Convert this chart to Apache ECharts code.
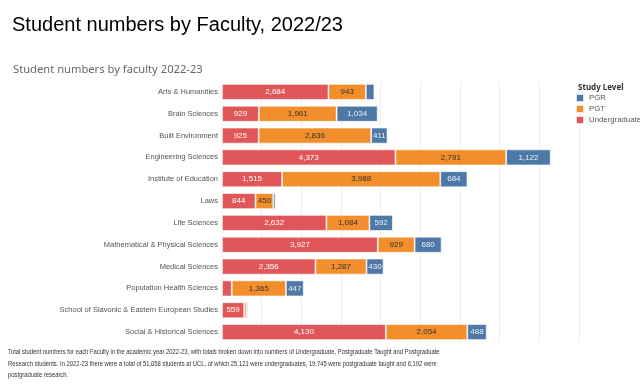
<!DOCTYPE html>
<html>
<head>
<meta charset="utf-8">
<script src="https://cdn.jsdelivr.net/npm/echarts@6/dist/echarts.min.js"></script>
<style>
html,body{margin:0;padding:0;background:#fff;}
#c{width:640px;height:390px;}
</style>
</head>
<body>
<div id="c"></div>
<script>
const categories = [
  'Arts & Humanities', 'Brain Sciences', 'Built Environment', 'Engineering Sciences',
  'Institute of Education', 'Laws', 'Life Sciences', 'Mathematical & Physical Sciences',
  'Medical Sciences', 'Population Health Sciences',
  'School of Slavonic & Eastern European Studies', 'Social & Historical Sciences'
];
const undergraduate = [2684, 929, 925, 4373, 1515, 844, 2632, 3927, 2356, 247, 559, 4130];
const pgt = [943, 1961, 2836, 2791, 3988, 450, 1084, 929, 1287, 1365, 57, 2054];
const pgr = [215, 1034, 411, 1122, 684, 55, 592, 680, 430, 447, 34, 488];

const footer = [
  'Total student numbers for each Faculty in the academic year 2022-23, with totals broken down into numbers of Undergraduate, Postgraduate Taught and Postgraduate',
  'Research students. In 2022-23 there were a total of 51,058 students at UCL, of which 25,121 were undergraduates, 19,745 were postgraduate taught and 6,192 were',
  'postgraduate research.'
];

const chart = echarts.init(document.getElementById('c'), null, {renderer: 'canvas'});
const fmt = p => p.value >= 300 ? p.value.toLocaleString('en-US') : '';
const ff = 'Liberation Sans, Arial, sans-serif';

function mk(name, data, color, textColor) {
  return {
    name, type: 'bar', stack: 'total', data, barWidth: 16,
    itemStyle: {color, borderColor: 'rgba(255,255,255,0.8)', borderWidth: 0.8},
    label: {show: true, position: 'inside', color: textColor, formatter: fmt, fontSize: 8, fontFamily: ff},
    emphasis: {disabled: true}, animation: false
  };
}

chart.setOption({
  animation: false,
  title: [
    {text: 'Student numbers by Faculty, 2022/23', left: 7, top: 10,
     textStyle: {fontSize: 20, fontWeight: 'normal', color: '#000', fontFamily: ff}},
    {text: 'Student numbers by faculty 2022-23', left: 8, top: 59,
     textStyle: {fontSize: 11.2, fontWeight: 'normal', color: '#666', fontFamily: 'Noto Sans, sans-serif'}},
    {text: 'Study Level', left: 573, top: 79,
     textStyle: {fontSize: 8, fontWeight: 'bold', color: '#333', fontFamily: 'Noto Sans, sans-serif'}}
  ],
  legend: {
    data: ['PGR', 'PGT', 'Undergraduate'],
    orient: 'vertical', left: 575, top: 93, padding: 0, itemWidth: 8, itemHeight: 8, itemGap: 1,
    icon: 'rect', selectedMode: false,
    textStyle: {fontSize: 7.8, color: '#555', fontFamily: ff}
  },
  grid: {left: 222, top: 81, height: 262, width: 357},
  xAxis: {
    type: 'value', min: 0, max: 9000, interval: 1000,
    axisLabel: {show: false}, axisLine: {show: false}, axisTick: {show: false},
    splitLine: {show: true, lineStyle: {color: '#f0f0f0', width: 1}}
  },
  yAxis: {
    type: 'category', data: categories, inverse: true,
    axisLine: {show: false}, axisTick: {show: false},
    axisLabel: {color: '#555', margin: 4, fontSize: 7.5, fontFamily: ff}
  },
  series: [
    mk('Undergraduate', undergraduate, '#E15759', '#fff'),
    mk('PGT', pgt, '#F28E2B', '#333'),
    mk('PGR', pgr, '#4E79A7', '#e8eef6')
  ],
  graphic: footer.map((t, i) => ({
    type: 'text', x: 8, y: 348 + i * 11.5, scaleX: 0.78,
    style: {text: t, fontSize: 7.5, fill: '#333', fontFamily: ff}
  }))
});
</script>
</body>
</html>
